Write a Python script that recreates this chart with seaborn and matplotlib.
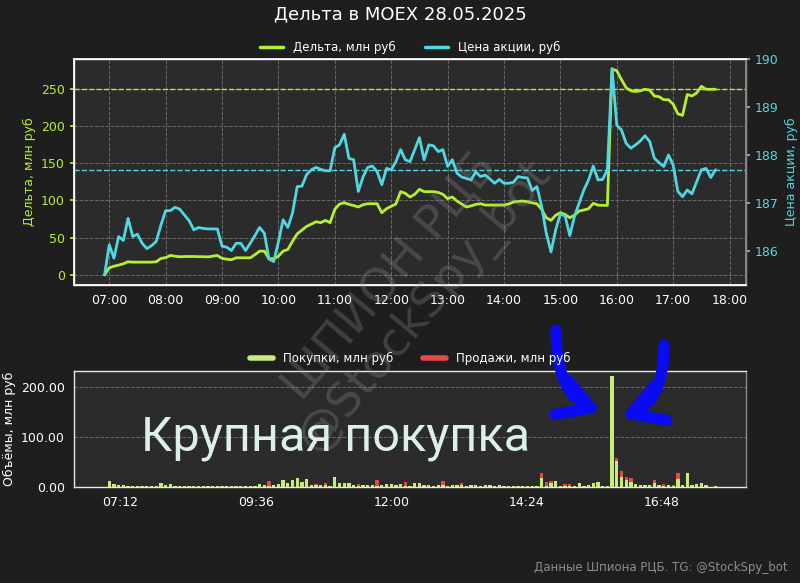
import numpy as np
import pandas as pd
import matplotlib
matplotlib.use("Agg")
import matplotlib.pyplot as plt
import matplotlib.dates as mdates
from matplotlib.lines import Line2D
from matplotlib.ticker import MultipleLocator, FormatStrFormatter
import seaborn as sns

# Дельта, млн руб (каждые 5 минут с 06:55)
delta = [0, 9.4, 11.6, 13, 14.8, 17.5, 17, 17, 17, 17, 17, 17.5, 22, 23, 26, 25, 24.2, 24.5, 24.5, 24.6,
         24.3, 24.3, 24, 25, 26, 22, 21, 20.2, 22.8, 22.8, 22.8, 22.8, 27, 31.8, 31.8, 21.5, 21.5, 25, 31.8, 34,
         45, 55, 60, 65, 68, 71.2, 70, 73, 70, 88, 95, 96.8, 94.5, 93, 91, 94, 95.4, 95.4, 95.4, 83.3,
         88.7, 92, 95, 111.6, 109.3, 104.4, 108, 114.7, 111.6, 111.6, 111.6, 110.5, 108, 102.2, 104.4, 99, 95, 91, 92.5, 94.5,
         95.4, 93.6, 93.6, 93.6, 93.6, 93.6, 95, 97.7, 98.5, 99, 98, 96.5, 95.4, 88, 76.6, 73, 80, 83.3, 81, 76.6,
         80, 85.6, 87, 88.7, 95.9, 93.5, 93.2, 93.2, 276, 274, 262, 251, 247, 246, 247, 249, 248, 240, 239, 235,
         235, 229, 216, 214, 242, 240, 244, 253, 249, 249, 249]

# Цена акции, руб
price = [185.51, 186.14, 185.86, 186.31, 186.23, 186.69, 186.31, 186.36, 186.17, 186.06, 186.12, 186.21, 186.55, 186.85,
         186.85, 186.92, 186.88, 186.76, 186.64, 186.45, 186.50, 186.48, 186.47, 186.47, 186.47, 186.11, 186.09, 186.02,
         186.17, 186.17, 186.02, 186.17, 186.33, 186.50, 186.38, 185.84, 185.79, 186.20, 186.66, 186.50, 186.80, 187.35,
         187.36, 187.60, 187.70, 187.75, 187.71, 187.68, 187.68, 188.16, 188.22, 188.44, 187.94, 187.91, 187.25, 187.55,
         187.75, 187.78, 187.66, 187.39, 187.73, 187.70, 187.87, 188.12, 187.91, 187.87, 188.12, 188.37, 187.91, 188.22,
         188.20, 188.08, 188.12, 187.77, 187.91, 187.63, 187.55, 187.52, 187.49, 187.66, 187.56, 187.59, 187.51, 187.42,
         187.50, 187.42, 187.42, 187.44, 187.56, 187.54, 187.53, 187.27, 187.35, 186.95, 186.38, 185.99, 186.45, 186.78,
         186.74, 186.33, 186.73, 187.01, 187.28, 187.49, 187.78, 187.49, 187.50, 187.70, 189.81, 188.63, 188.53, 188.25,
         188.15, 188.22, 188.30, 188.41, 188.29, 187.94, 187.85, 187.77, 188.01, 187.80, 187.25, 187.14, 187.28, 187.20,
         187.45, 187.70, 187.73, 187.54, 187.70]

# Покупки и продажи, млн руб
buys = [0, 12, 5, 4, 3, 2, 2, 2, 2, 1, 1, 1, 7, 4, 5, 1, 2, 1, 2, 1,
        2, 2, 2, 1, 2, 2, 2, 2, 1, 1, 1, 2, 2, 6, 4, 2, 4, 5, 13, 7,
        13, 18, 10, 15, 4, 4, 3, 4, 2, 19, 7, 7, 8, 3, 1, 3, 3, 3, 2, 4,
        6, 5, 4, 6, 2, 1, 7, 7, 3, 3, 2, 3, 3, 1, 3, 3, 3, 1, 3, 3,
        2, 3, 3, 2, 3, 2, 2, 2, 2, 2, 2, 2, 1, 17, 2, 8, 12, 2, 1, 1,
        2, 7, 2, 4, 7, 9, 2, 2, 221, 52, 20, 14, 10, 5, 4, 4, 4, 8, 4, 1,
        4, 1, 16, 3, 27, 3, 5, 7, 4, 0, 1]
sells = [0, 0, 0, 0, 0, 0, 0, 0, 0, 0, 0, 0, 0, 0, 0, 1, 0, 1, 0, 1,
         0, 0, 0, 0, 0, 0, 0, 0, 0, 0, 0, 0, 0, 0, 0, 10, 0, 0, 0, 0,
         0, 0, 0, 0, 0, 1, 1, 3, 0, 0, 0, 0, 0, 0, 5, 0, 0, 0, 12, 0,
         0, 0, 0, 0, 7, 0, 0, 0, 0, 0, 0, 0, 9, 0, 0, 0, 5, 0, 0, 0,
         0, 0, 0, 0, 0, 0, 0, 0, 0, 0, 0, 0, 0, 10, 8, 3, 0, 0, 5, 5,
         0, 0, 0, 0, 0, 0, 0, 0, 0, 6, 11, 5, 7, 0, 0, 0, 0, 5, 0, 5,
         0, 3, 11, 0, 0, 0, 0, 0, 0, 0, 0]

times = pd.date_range("2025-05-28 06:55", periods=len(delta), freq="5min")
x = mdates.date2num(times)
df = pd.DataFrame({"t": x, "delta": delta, "price": price, "buy": buys, "sell": sells})

BG = "#1e1e1e"
AX_BG = "#2b2b2b"
C_DELTA = "#b6f02c"
C_PRICE = "#4fd8e2"
C_BUY = "#c6ec7c"
C_SELL = "#e6474a"

sns.set_theme(style="dark")
plt.rcParams["font.family"] = ["DejaVu Sans"]

fig = plt.figure(figsize=(8, 5.83), dpi=100, facecolor=BG)
ax1 = fig.add_axes([0.0925, 0.511, 0.84, 0.388])
ax2 = ax1.twinx()
ax3 = fig.add_axes([0.0925, 0.165, 0.84, 0.199])

for a in (ax1, ax3):
    a.set_facecolor(AX_BG)
    a.grid(True, color="#6a6a6a", linestyle="--", linewidth=0.7)
    for s in a.spines.values():
        s.set_color("#e8e8e8")
        s.set_linewidth(1)
    a.spines["right"].set_color("#8a8a8a")
ax3.grid(False, axis="x")

# верхний график
sns.lineplot(data=df, x="t", y="delta", ax=ax1, color=C_DELTA, linewidth=2, label="Дельта, млн руб", legend=False)
sns.lineplot(data=df, x="t", y="price", ax=ax2, color=C_PRICE, linewidth=2, label="Цена акции, руб", legend=False)
ax1.axhline(delta[-1], color=C_DELTA, linestyle="--", linewidth=1)
ax2.axhline(price[-1], color=C_PRICE, linestyle="--", linewidth=1)
ax2.grid(False)
ax2.spines["right"].set_color("#8a8a8a")

ax1.xaxis.set_major_locator(mdates.HourLocator())
ax1.xaxis.set_major_formatter(mdates.DateFormatter("%H:%M"))
ax1.set_ylim(-13.8, 289.8)
ax2.set_ylim(185.30, 190.01)
ax1.set_xlabel("")
ax1.set_ylabel("Дельта, млн руб", color=C_DELTA, fontsize=9)
ax2.set_ylabel("Цена акции, руб", color=C_PRICE, fontsize=9)
ax1.tick_params(axis="x", colors="white", labelsize=9, length=3)
ax1.tick_params(axis="y", colors=C_DELTA, labelsize=9, length=3)
ax2.tick_params(axis="y", colors=C_PRICE, labelsize=9, length=3)

h = [Line2D([], [], color=C_DELTA, lw=2.5), Line2D([], [], color=C_PRICE, lw=2.5)]
ax1.legend(h, ["Дельта, млн руб", "Цена акции, руб"], loc="lower center", bbox_to_anchor=(0.5, 0.975),
           ncol=2, frameon=False, labelcolor="white", fontsize=8.5, handlelength=2, columnspacing=2.5)

fig.suptitle("Дельта в MOEX 28.05.2025", color="white", fontsize=13, y=0.99)

# нижний график: объемы
w = 3.5 / (24 * 60)
ax3.bar(df["t"], df["buy"], width=w, color=C_BUY, edgecolor="none", linewidth=0)
ax3.bar(df["t"], df["sell"], width=w, bottom=df["buy"], color=C_SELL, edgecolor="none", linewidth=0)
ax3.set_xlim(ax1.get_xlim())
ax3.xaxis.set_major_locator(MultipleLocator(0.1))
ax3.xaxis.set_major_formatter(mdates.DateFormatter("%H:%M"))
ax3.yaxis.set_major_locator(MultipleLocator(100))
ax3.yaxis.set_major_formatter(FormatStrFormatter("%.2f"))
ax3.set_ylim(0, max(b + s for b, s in zip(buys, sells)) * 1.05)
ax3.set_ylabel("Объёмы, млн руб", color="white", fontsize=9)
ax3.tick_params(axis="both", colors="white", labelsize=9, length=3)
h2 = [Line2D([], [], color=C_BUY, lw=4), Line2D([], [], color=C_SELL, lw=4)]
ax3.legend(h2, ["Покупки, млн руб", "Продажи, млн руб"], loc="lower center", bbox_to_anchor=(0.5, 0.96),
           ncol=2, frameon=False, labelcolor="white", fontsize=8.5, handlelength=2, columnspacing=2.5)

# водяной знак
fig.text(0.51, 0.5, "ШПИОН РЦБ\n@StockSpy_bot", rotation=50, ha="center", va="center",
         fontsize=34, color="#9a9a9a", alpha=0.27, linespacing=1.0)

# подпись и стрелки
fig.text(0.419, 0.248, "Крупная покупка", ha="center", va="center", fontsize=35,
         color="#dcefe8", family=["Roboto", "DejaVu Sans"])
i_big = int(np.argmax(buys))
t_big = x[i_big]
arrow_kw = dict(arrowstyle="->,head_length=1.9,head_width=1.1", color="#0a0af5", lw=8,
                shrinkA=0, shrinkB=0, capstyle="round", joinstyle="round")
ax3.annotate("", xy=(t_big - 11 / 1440, 150), xycoords="data", xytext=(556, 253), textcoords="figure pixels",
             arrowprops=dict(arrow_kw, connectionstyle="angle3,angleA=90,angleB=-20"))
ax3.annotate("", xy=(t_big + 9 / 1440, 138), xycoords="data", xytext=(664, 238), textcoords="figure pixels",
             arrowprops=dict(arrow_kw, connectionstyle="angle3,angleA=90,angleB=20"))

fig.text(0.984, 0.026, "Данные Шпиона РЦБ. TG: @StockSpy_bot", ha="right", va="center",
         color="#8c8c8c", fontsize=8.5)

fig.savefig("out.png", dpi=100, facecolor=BG)
